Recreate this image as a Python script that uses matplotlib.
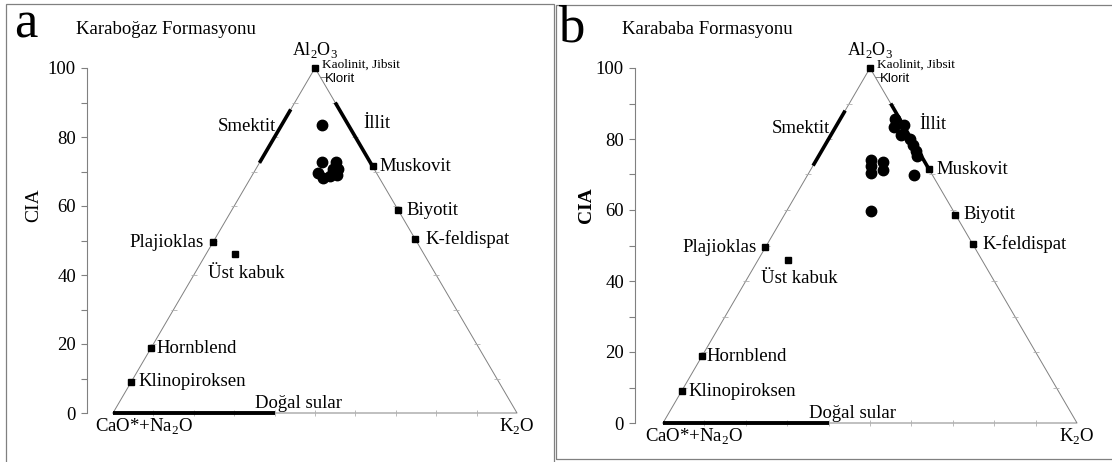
import matplotlib.pyplot as plt
from matplotlib.patches import Rectangle

plt.rcParams["font.family"] = ["Liberation Serif", "DejaVu Serif"]
plt.rcParams["mathtext.fontset"] = "custom"
plt.rcParams["mathtext.rm"] = "Liberation Serif"

W, H = 1112, 462

# reference minerals: CIA (A %) and K2O share (K %), same for both panels
mineral_names = ["Kaolinit, Jibsit", "Plajioklas", "Üst kabuk", "Hornblend",
                 "Klinopiroksen", "Muskovit", "Biyotit", "K-feldispat"]
mineral_cia = [100, 49.5, 46.0, 18.8, 9.0, 71.5, 58.7, 50.3]
mineral_k = [0, 0, 7.2, 0, 0, 28.5, 41.3, 49.7]
klorit_cia = [97.5]
klorit_k = [2.5]

smektit_cia = [72.5, 88.0]
illit_cia = [71.5, 90.0]
dogal_k = [0, 40]

# samples
karabogaz_cia = [83.4, 72.7, 72.7, 70.6, 70.6, 69.5, 68.0, 68.6, 68.9]
karabogaz_k = [10.0, 15.3, 18.8, 20.4, 19.2, 16.0, 18.0, 19.4, 21.0]

karababa_cia = [85.6, 83.4, 83.9, 81.1, 80.0, 78.3, 76.6, 75.2,
                74.1, 72.4, 70.4, 73.5, 71.3, 69.9, 59.7]
karababa_k = [13.2, 14.1, 16.3, 16.9, 19.7, 21.2, 22.8, 23.8,
              13.2, 14.0, 15.0, 16.4, 17.5, 25.6, 20.4]

yticks_major = [0, 20, 40, 60, 80, 100]
yticks_minor = [10, 30, 50, 70, 90]
side_ticks = [10, 20, 30, 40, 50, 60, 70, 80, 90]

# label offsets in pixels (dx, dy, ha)
label_pos = {
    "Kaolinit, Jibsit": (7, 3, "left"),
    "Plajioklas": (-9, 0, "right"),
    "Üst kabuk": (11, -19, "center"),
    "Hornblend": (5, 0, "left"),
    "Klinopiroksen": (7, 0, "left"),
    "Muskovit": (7, 0, "left"),
    "Biyotit": (8, 0, "left"),
    "K-feldispat": (10, 0, "left"),
}

GRAY = "#808080"


def tern(cia, k):
    xs = [kk + a / 2 for a, kk in zip(cia, k)]
    return xs, list(cia)


def panel(fig, cia, k, left_px, right_px, apex_py, base_py,
          spine_px, cia_x, bold_cia):
    scale = (right_px - left_px) / 100
    rect = [spine_px / W, 1 - base_py / H, (right_px - spine_px) / W,
            (base_py - apex_py) / H]
    ax = fig.add_axes(rect)
    ax.set_facecolor("none")
    ax.set_xlim(-(left_px - spine_px) / scale, 100)
    ax.set_ylim(0, 100)
    for s in ["top", "right", "bottom"]:
        ax.spines[s].set_visible(False)
    ax.spines["left"].set_color(GRAY)
    ax.spines["left"].set_linewidth(0.8)
    ax.set_xticks([])
    ax.set_yticks(yticks_major)
    ax.set_yticks(yticks_minor, minor=True)
    ax.tick_params(axis="y", which="both", direction="out", length=4,
                   width=0.8, color=GRAY, labelsize=13.5, pad=4)

    # triangle outline
    tx, ty = tern([0, 100, 0, 0], [0, 0, 100, 0])
    ax.plot(tx, ty, color=GRAY, lw=0.7, clip_on=False)

    # small ticks along the sides
    lx, ly = tern(side_ticks, [0] * len(side_ticks))
    rx, ry = tern(side_ticks, [100 - v for v in side_ticks])
    bx, by = tern([0] * len(side_ticks), side_ticks)
    ax.plot(lx, ly, ls="none", marker="_", ms=4, mew=0.6, color="#b0b0b0", clip_on=False)
    ax.plot(rx, ry, ls="none", marker="_", ms=4, mew=0.6, color="#b0b0b0", clip_on=False)
    ax.plot(bx, by, ls="none", marker="|", ms=4, mew=0.6, color="#b0b0b0", clip_on=False)

    # thick mineral ranges
    sx, sy = tern(smektit_cia, [0, 0])
    ax.plot(sx, sy, color="black", lw=2.6, solid_capstyle="butt")
    ix, iy = tern(illit_cia, [100 - v for v in illit_cia])
    ax.plot(ix, iy, color="black", lw=2.6, solid_capstyle="butt")
    dx, dy = tern([0, 0], dogal_k)
    ax.plot(dx, dy, color="black", lw=2.8, solid_capstyle="butt", clip_on=False)

    # mineral markers
    mx, my = tern(mineral_cia, mineral_k)
    ax.plot(mx, my, ls="none", marker="s", ms=5, color="black", clip_on=False)
    kx, ky = tern(klorit_cia, klorit_k)
    ax.plot(kx, ky, ls="none", marker=1, ms=4, mew=0.7, color=GRAY, clip_on=False)

    for name, x, y in zip(mineral_names, mx, my):
        ox, oy, ha = label_pos[name]
        size = 9.5 if name == "Kaolinit, Jibsit" else 13.5
        ax.annotate(name, (x, y), xytext=(ox, oy), textcoords="offset pixels",
                    ha=ha, va="center", fontsize=size)
    ax.annotate("Klorit", (kx[0], ky[0]), xytext=(5, -2), textcoords="offset pixels",
                ha="left", va="center", fontsize=9.5, family="Liberation Sans")

    smx, smy = tern([83], [0])
    ax.annotate("Smektit", (smx[0], smy[0]), xytext=(-5, 0), textcoords="offset pixels",
                ha="right", va="center", fontsize=13.5)
    ilx, ily = tern([84], [16])
    ax.annotate("İllit", (ilx[0], ily[0]), xytext=(16, 0), textcoords="offset pixels",
                ha="left", va="center", fontsize=13.5)
    ax.annotate("Doğal sular", (dogal_k[1], 0), xytext=(-20, 10), textcoords="offset pixels",
                ha="left", va="center", fontsize=13.5)

    # corner labels
    ax.annotate(r"Al$_{\mathregular{2}}$O$_{\mathregular{3}}$", (50, 100), xytext=(0, 18),
                textcoords="offset pixels", ha="center", va="center", fontsize=13)
    ax.annotate(r"CaO*+Na$_{\mathregular{2}}$O", (0, 0), xytext=(-18, -14),
                textcoords="offset pixels", ha="left", va="center", fontsize=13.5)
    ax.annotate(r"K$_{\mathregular{2}}$O", (100, 0), xytext=(0, -14),
                textcoords="offset pixels", ha="center", va="center", fontsize=13.5)

    # samples
    px, py = tern(cia, k)
    ax.plot(px, py, ls="none", marker="o", ms=7.5, color="black")

    fig.text(cia_x / W, 1 - 205 / H, "CIA", rotation=90, ha="center", va="center",
             fontsize=14, fontweight="bold" if bold_cia else "normal")
    return ax


fig = plt.figure(figsize=(W / 100, H / 100), dpi=100)

# panel frames
fig.patches.append(Rectangle((6 / W, -0.01), 548 / W, 1 - 4 / H + 0.01,
                             transform=fig.transFigure, fill=False,
                             edgecolor=GRAY, lw=0.9))
fig.patches.append(Rectangle((556 / W, 1 - 459 / H), 560 / W, 454 / H,
                             transform=fig.transFigure, fill=False,
                             edgecolor=GRAY, lw=0.9))

panel(fig, karabogaz_cia, karabogaz_k, 113, 517, 68, 413, 87, 34, False)
panel(fig, karababa_cia, karababa_k, 663, 1077, 68, 423, 635, 586, True)

fig.text(14 / W, 1 - 24 / H, "a", fontsize=38, ha="left", va="center")
fig.text(76 / W, 1 - 30 / H, "Karaboğaz Formasyonu", fontsize=13.5, ha="left", va="center")
fig.text(558 / W, 1 - 28 / H, "b", fontsize=38, ha="left", va="center")
fig.text(622 / W, 1 - 29 / H, "Karababa Formasyonu", fontsize=13.5, ha="left", va="center")

fig.savefig("out.png", dpi=100)
